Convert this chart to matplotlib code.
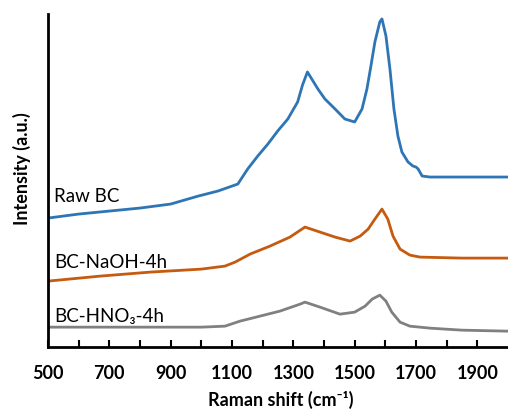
import matplotlib
matplotlib.use("Agg")
import matplotlib.pyplot as plt

# Raman shift (cm-1) and intensities (a.u.)
raw_x = [500, 600, 700, 800, 900, 990, 1054, 1119, 1151, 1184, 1217, 1249, 1282, 1314,
         1330, 1346, 1380, 1403, 1436, 1468, 1500, 1524, 1540, 1553, 1566, 1582, 1589,
         1602, 1615, 1628, 1641, 1654, 1674, 1690, 1700, 1707, 1720, 1746, 1850, 2000]
raw_y = [129, 133, 136, 139, 143, 151, 156, 163, 178, 191, 203, 216, 228, 245,
         262, 275, 258, 248, 238, 228, 225, 238, 258, 281, 305, 325, 328,
         311, 278, 238, 211, 195, 185, 181, 180, 178, 171, 170, 170, 170]

naoh_x = [500, 670, 833, 1000, 1077, 1110, 1159, 1224, 1289, 1338, 1387, 1436, 1485,
          1518, 1544, 1566, 1589, 1608, 1625, 1648, 1680, 1713, 1850, 2000]
naoh_y = [66, 71, 75, 78, 81, 85, 93, 101, 110, 120, 115, 110, 106,
          111, 118, 128, 138, 128, 111, 98, 92, 90, 89, 89]

hno3_x = [500, 700, 900, 1000, 1077, 1126, 1191, 1256, 1322, 1338, 1387, 1452, 1500,
          1534, 1557, 1582, 1602, 1621, 1648, 1680, 1746, 1850, 2000]
hno3_y = [20, 20, 20, 20, 21, 26, 31, 36, 43, 45, 40, 33, 35,
          41, 48, 52, 46, 35, 25, 21, 19, 17, 16]

labels = ["Raw BC", "BC-NaOH-4h", "BC-HNO\u2083-4h"]
label_y = [152, 86, 32]
colors = ["#2E75B6", "#C55A11", "#808080"]

xticks_major = [500, 700, 900, 1100, 1300, 1500, 1700, 1900]

fam = ["Lato", "DejaVu Sans"]
plt.rcParams["font.family"] = fam

fig = plt.figure(figsize=(5.08, 4.14), dpi=100)
ax = fig.add_axes([0.0945, 0.159, 0.9055, 0.805])

for xs, ys, c in zip([raw_x, naoh_x, hno3_x], [raw_y, naoh_y, hno3_y], colors):
    ax.plot(xs, ys, color=c, lw=2.0, solid_joinstyle="round")

for lab, ly in zip(labels, label_y):
    ax.text(520, ly, lab, fontsize=13.5, color="black", va="center", ha="left", family=fam)

ax.set_xlim(500, 2000)
ax.set_ylim(0, 333)
ax.set_xticks(xticks_major)
ax.set_xticks(range(600, 2000, 200), minor=True)
ax.set_xticklabels([str(v) for v in xticks_major], fontsize=13, fontweight="bold")
ax.tick_params(axis="x", which="both", direction="in", length=5, width=1.5, pad=12)
ax.set_yticks([])
for s in ["top", "right"]:
    ax.spines[s].set_visible(False)
for s in ["left", "bottom"]:
    ax.spines[s].set_linewidth(2)

ax.set_xlabel("Raman shift (cm\u207b\u00b9)", fontsize=13, fontweight="bold", family=fam)
ax.xaxis.set_label_coords(0.505, -0.128)
ax.set_ylabel("Intensity (a.u.)", fontsize=13, fontweight="bold", family=fam)
ax.yaxis.set_label_coords(-0.037, 0.54)

fig.savefig("out.png", dpi=100)
